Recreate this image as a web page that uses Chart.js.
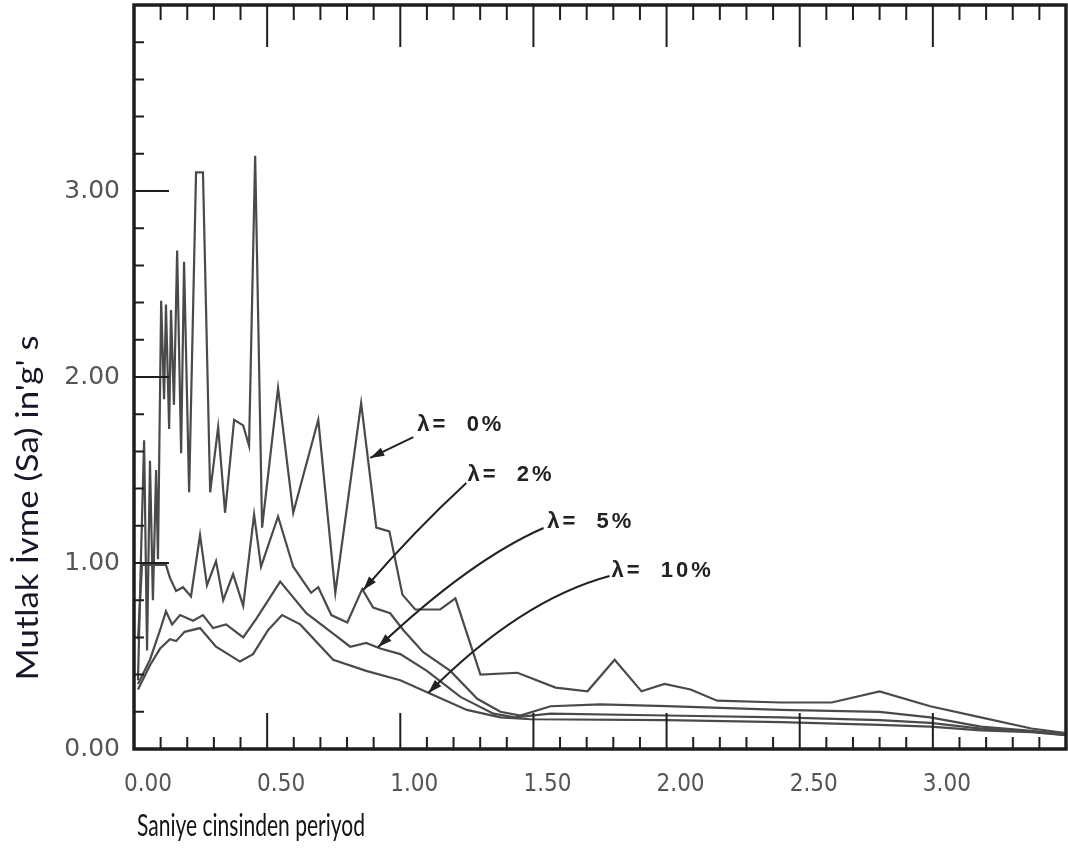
<!DOCTYPE html>
<html>
<head>
<meta charset="utf-8">
<script src="https://cdn.jsdelivr.net/npm/chart.js@4"></script>
<style>
  body { margin: 0; background: #fff; }
  #wrap { width: 1068px; height: 854px; }
</style>
</head>
<body>
<div id="wrap"><canvas id="spectrum" width="1068" height="854"></canvas></div>
<script>
// periyod (s) ve mutlak ivme (g) degerleri, sönüm oranlarina gore
const period0 = [0.015, 0.026, 0.038, 0.049, 0.060, 0.071, 0.083, 0.090, 0.102, 0.113, 0.120, 0.132, 0.139, 0.150, 0.162, 0.177, 0.188, 0.207, 0.233, 0.259, 0.286, 0.316, 0.342, 0.376, 0.410, 0.432, 0.455, 0.481, 0.541, 0.598, 0.692, 0.756, 0.853, 0.910, 0.959, 1.008, 1.056, 1.150, 1.207, 1.301, 1.440, 1.583, 1.703, 1.805, 1.906, 1.992, 2.09, 2.19, 2.43, 2.62, 2.80, 2.99, 3.18, 3.37, 3.50];
const sa0 = [0.37, 1.02, 1.66, 0.53, 1.55, 0.80, 1.50, 1.02, 2.41, 1.88, 2.39, 1.72, 2.36, 1.85, 2.68, 1.59, 2.62, 1.38, 3.10, 3.10, 1.38, 1.73, 1.27, 1.77, 1.74, 1.63, 3.19, 1.19, 1.94, 1.27, 1.77, 0.84, 1.86, 1.19, 1.17, 0.83, 0.75, 0.75, 0.81, 0.40, 0.41, 0.33, 0.31, 0.48, 0.31, 0.35, 0.32, 0.26, 0.25, 0.25, 0.31, 0.23, 0.17, 0.11, 0.086];

const period2 = [0.015, 0.030, 0.120, 0.135, 0.158, 0.184, 0.214, 0.248, 0.274, 0.308, 0.335, 0.372, 0.410, 0.451, 0.477, 0.541, 0.598, 0.665, 0.692, 0.741, 0.801, 0.857, 0.898, 0.962, 1.011, 1.086, 1.188, 1.289, 1.376, 1.451, 1.564, 1.75, 2.0, 2.43, 2.80, 2.99, 3.18, 3.37, 3.50];
const sa2 = [0.59, 0.99, 0.99, 0.92, 0.85, 0.87, 0.82, 1.15, 0.88, 1.01, 0.80, 0.94, 0.77, 1.26, 0.98, 1.25, 0.98, 0.84, 0.87, 0.72, 0.68, 0.86, 0.76, 0.73, 0.64, 0.52, 0.42, 0.27, 0.20, 0.18, 0.23, 0.24, 0.23, 0.21, 0.20, 0.17, 0.12, 0.097, 0.08];

const period5 = [0.015, 0.06, 0.098, 0.12, 0.143, 0.173, 0.222, 0.259, 0.297, 0.346, 0.410, 0.459, 0.549, 0.647, 0.748, 0.812, 0.872, 0.925, 1.0, 1.10, 1.226, 1.35, 1.43, 1.564, 2.0, 2.43, 2.80, 2.99, 3.18, 3.37, 3.50];
const sa5 = [0.35, 0.48, 0.64, 0.74, 0.67, 0.72, 0.69, 0.72, 0.65, 0.67, 0.60, 0.70, 0.90, 0.73, 0.62, 0.55, 0.57, 0.54, 0.51, 0.42, 0.28, 0.19, 0.17, 0.19, 0.18, 0.17, 0.155, 0.14, 0.11, 0.095, 0.075];

const period10 = [0.015, 0.06, 0.098, 0.135, 0.158, 0.19, 0.248, 0.308, 0.398, 0.447, 0.504, 0.556, 0.624, 0.748, 0.872, 1.0, 1.124, 1.25, 1.376, 1.49, 2.0, 2.43, 2.80, 2.99, 3.18, 3.37, 3.50];
const sa10 = [0.32, 0.45, 0.54, 0.59, 0.58, 0.63, 0.65, 0.55, 0.47, 0.51, 0.64, 0.72, 0.67, 0.48, 0.42, 0.37, 0.29, 0.21, 0.17, 0.16, 0.155, 0.145, 0.13, 0.12, 0.10, 0.09, 0.075];

const seriesLabels = ['λ=  0%', 'λ=  2%', 'λ=  5%', 'λ=  10%'];
const xTickLabels = ['0.00', '0.50', '1.00', '1.50', '2.00', '2.50', '3.00'];
const yTickLabels = ['0.00', '1.00', '2.00', '3.00'];
const xTitle = 'Saniye cinsinden periyod';
const yTitle = 'Mutlak İvme (Sa) in\'g\' s';

// etiket ve ok konumlari (veri birimiyle)
const notes = [
    { text: seriesLabels[0], at: [1.064, 1.742], from: [1.049, 1.677], ctrl: [0.968, 1.621], to: [0.887, 1.565] },
    { text: seriesLabels[1], at: [1.252, 1.473], from: [1.248, 1.430], ctrl: [1.056, 1.177], to: [0.861, 0.855] },
    { text: seriesLabels[2], at: [1.552, 1.220], from: [1.538, 1.188], ctrl: [1.263, 1.016], to: [0.917, 0.548] },
    { text: seriesLabels[3], at: [1.793, 0.957], from: [1.786, 0.930], ctrl: [1.451, 0.801], to: [1.105, 0.301] }
];

function toPoints(xs, ys) {
    return xs.map((x, i) => ({ x: x, y: ys[i] }));
}

function noPadding(scale) {
    scale.paddingLeft = 0;
    scale.paddingRight = 0;
    scale.paddingTop = 0;
    scale.paddingBottom = 0;
}

// cerceve, iceri bakan tikler, eksen basliklari ve oklar
const framePlugin = {
    id: 'framePlugin',
    afterDatasetsDraw(chart) {
        const { ctx, chartArea: a, scales: { x, y } } = chart;
        ctx.save();
        ctx.strokeStyle = '#1e1e1e';
        ctx.lineWidth = 2;
        ctx.beginPath();
        for (let i = 0; i <= 35; i++) {
            const px = x.getPixelForValue(i / 10);
            const major = i % 5 === 0;
            ctx.moveTo(px, a.top);
            ctx.lineTo(px, a.top + (major ? 42 : 15));
            ctx.moveTo(px, a.bottom);
            ctx.lineTo(px, a.bottom - (major ? 36 : 12));
        }
        for (let i = 0; i <= 20; i++) {
            const py = y.getPixelForValue(i / 5);
            const major = i % 5 === 0;
            ctx.moveTo(a.left, py);
            ctx.lineTo(a.left + (major ? 35 : 10), py);
        }
        ctx.stroke();

        ctx.lineWidth = 3.5;
        ctx.strokeRect(a.left, a.top, a.right - a.left, a.bottom - a.top);

        // oklar
        ctx.strokeStyle = '#222';
        ctx.fillStyle = '#222';
        ctx.lineWidth = 2;
        notes.forEach(n => {
            const fx = x.getPixelForValue(n.from[0]), fy = y.getPixelForValue(n.from[1]);
            const cx = x.getPixelForValue(n.ctrl[0]), cy = y.getPixelForValue(n.ctrl[1]);
            const tx = x.getPixelForValue(n.to[0]), ty = y.getPixelForValue(n.to[1]);
            ctx.beginPath();
            ctx.moveTo(fx, fy);
            ctx.quadraticCurveTo(cx, cy, tx, ty);
            ctx.stroke();
            const ang = Math.atan2(ty - cy, tx - cx);
            const hx = tx - Math.cos(ang) * 6, hy = ty - Math.sin(ang) * 6;
            ctx.beginPath();
            ctx.moveTo(hx + Math.cos(ang) * 6, hy + Math.sin(ang) * 6);
            ctx.lineTo(hx - Math.cos(ang) * 8 - Math.sin(ang) * 4.5, hy - Math.sin(ang) * 8 + Math.cos(ang) * 4.5);
            ctx.lineTo(hx - Math.cos(ang) * 8 + Math.sin(ang) * 4.5, hy - Math.sin(ang) * 8 - Math.cos(ang) * 4.5);
            ctx.closePath();
            ctx.fill();

            ctx.font = 'bold 22px "Liberation Sans", Arial, sans-serif';
            ctx.letterSpacing = '3px';
            ctx.textBaseline = 'middle';
            ctx.textAlign = 'left';
            ctx.fillText(n.text, x.getPixelForValue(n.at[0]), y.getPixelForValue(n.at[1]));
        });
        ctx.letterSpacing = '0px';

        // eksen basliklari
        ctx.fillStyle = '#141414';
        ctx.font = '30px Lato, "Open Sans", sans-serif';
        ctx.textAlign = 'left';
        ctx.textBaseline = 'middle';
        ctx.save();
        ctx.translate(a.left + 3, 826);
        ctx.scale(228 / ctx.measureText(xTitle).width, 1);
        ctx.fillText(xTitle, 0, 0);
        ctx.restore();

        ctx.fillStyle = '#16182a';
        ctx.font = '30px Lato, "Open Sans", sans-serif';
        ctx.translate(28, 508);
        ctx.rotate(-Math.PI / 2);
        ctx.scale(345 / ctx.measureText(yTitle).width, 1);
        ctx.textAlign = 'center';
        ctx.fillText(yTitle, 0, 0);
        ctx.restore();
    }
};

document.addEventListener('DOMContentLoaded', function () {
    const ctx = document.getElementById('spectrum').getContext('2d');
    const lineStyle = { borderColor: '#4a4a4a', borderWidth: 2.2, pointRadius: 0, fill: false, tension: 0 };

    new Chart(ctx, {
        type: 'line',
        data: {
            datasets: [
                Object.assign({ label: seriesLabels[0], data: toPoints(period0, sa0) }, lineStyle),
                Object.assign({ label: seriesLabels[1], data: toPoints(period2, sa2) }, lineStyle),
                Object.assign({ label: seriesLabels[2], data: toPoints(period5, sa5) }, lineStyle),
                Object.assign({ label: seriesLabels[3], data: toPoints(period10, sa10) }, lineStyle)
            ]
        },
        options: {
            responsive: false,
            animation: false,
            devicePixelRatio: 1,
            layout: { padding: { top: 5, right: 2, left: 0, bottom: 0 } },
            plugins: {
                legend: { display: false },
                tooltip: { enabled: false }
            },
            scales: {
                x: {
                    type: 'linear',
                    min: 0,
                    max: 3.5,
                    afterFit: function (scale) { scale.height = 105; noPadding(scale); },
                    grid: { display: false, drawTicks: false },
                    border: { display: false },
                    ticks: {
                        stepSize: 0.5,
                        padding: 21,
                        labelOffset: 14,
                        maxRotation: 0,
                        autoSkip: false,
                        color: '#555',
                        font: { family: '"Liberation Sans Narrow", "DejaVu Sans Condensed", sans-serif', size: 24 },
                        callback: function (v) {
                            return xTickLabels[Math.round(v * 2)] || '';
                        }
                    }
                },
                y: {
                    min: 0,
                    max: 4,
                    afterFit: function (scale) { scale.width = 134; noPadding(scale); },
                    grid: { display: false, drawTicks: false },
                    border: { display: false },
                    ticks: {
                        stepSize: 1,
                        padding: 14,
                        color: '#555',
                        font: { family: '"DejaVu Sans", sans-serif', size: 25 },
                        callback: function (v) {
                            return yTickLabels[Math.round(v)] || '';
                        }
                    }
                }
            }
        },
        plugins: [framePlugin]
    });
});
</script>
</body>
</html>
